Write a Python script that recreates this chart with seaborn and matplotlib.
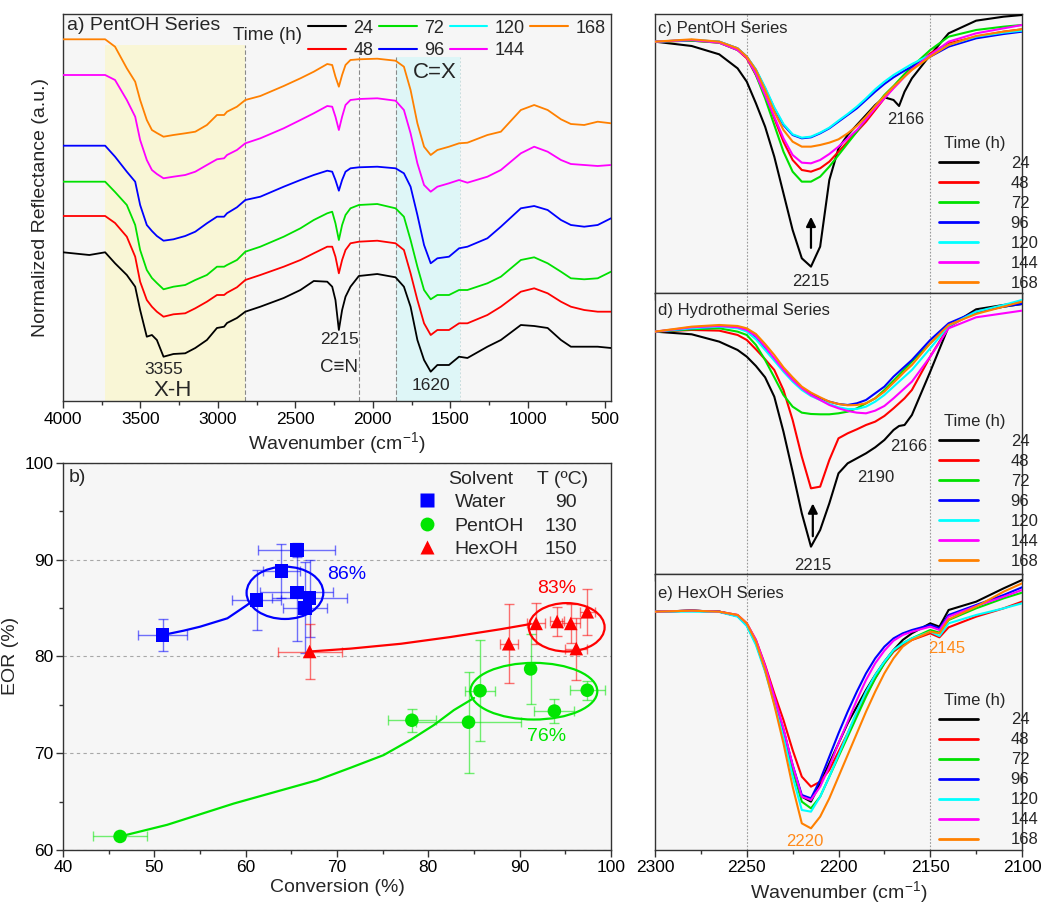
import numpy as np
import pandas as pd
import matplotlib
matplotlib.use('Agg')
import matplotlib.pyplot as plt
from matplotlib.lines import Line2D
from matplotlib.patches import Ellipse
from matplotlib.ticker import MultipleLocator
import seaborn as sns

# ---------------- data ----------------
times = ['24', '48', '72', '96', '120', '144', '168']
time_colors = ['#000000', '#FF0000', '#00E000', '#0000FF', '#00FFFF', '#FF00FF', '#FF8000']

# panel a: PentOH series, full spectra (offset, arbitrary units)
wn_a = [4000, 3830, 3728, 3664, 3588, 3534, 3502, 3459, 3426, 3394, 3351, 3287, 3211, 3146, 3071,
        3006, 2960, 2941, 2877, 2823, 2726, 2575, 2467, 2381, 2294, 2262, 2241, 2219, 2198, 2176,
        2144, 2090, 1971, 1853, 1799, 1756, 1712, 1669, 1626, 1583, 1508, 1443, 1389, 1260, 1173,
        1044, 958, 871, 785, 721, 635, 548, 462]
a_24 = [148.7, 146, 148.7, 137.7, 126, 114.3, 91, 64.3, 66, 61, 44.3, 47, 47.7, 53, 61, 73, 74.3, 78,
        83, 89.3, 94.3, 103, 111, 120, 119.3, 114.3, 101, 71, 91, 104.3, 114.3, 125, 127, 123.7, 114.3,
        94.3, 61, 41, 29.3, 36, 36, 44.3, 43, 54.3, 61, 76, 75, 73, 61, 54.3, 54.3, 54.3, 53]
a_48 = [185, 185, 185, 178, 164.3, 144.3, 119.3, 101, 94.3, 89.3, 84.3, 86.7, 87.7, 92.7, 99.3, 106,
        106, 108.3, 113.7, 121, 126, 134.3, 141, 147.7, 154.3, 154.3, 144.3, 127.7, 141, 151, 157.7,
        159.3, 160.3, 157.7, 151, 127.7, 101, 77.7, 66, 71, 71, 77.7, 77.7, 86, 94.3, 109.3, 112.7,
        107.7, 99.3, 94.3, 91, 89.3, 89.3]
a_72 = [219.3, 219.3, 219.3, 209, 196, 176, 151, 131, 123, 118, 111.7, 114.3, 116, 121, 126, 134.3,
        134.3, 136, 141, 149.3, 154.3, 164.3, 172.7, 181, 187.7, 189.3, 177.7, 161, 176, 186, 192.7,
        196, 197, 192.7, 184.3, 161, 134.3, 111, 101.7, 106, 106, 111, 111, 117.7, 124.3, 141, 143.7,
        137.7, 129.3, 122.7, 121.7, 122.7, 129.3]
a_96 = [255.3, 255.3, 255.3, 244.3, 229.3, 219.3, 196, 176, 170, 165, 160.3, 161.7, 165, 169.3, 177.7,
        184.3, 184.3, 187.7, 193.7, 201, 204.3, 214.3, 221, 226, 230.3, 229.3, 221, 210.3, 221, 229.3,
        232.7, 233.7, 234.3, 232.7, 227.7, 214.3, 186, 156, 137.7, 142.7, 144.3, 152.7, 154.3, 162.7,
        174.3, 192.7, 195, 191, 181, 176, 174.3, 176, 182.7]
a_144 = [326, 326, 326, 321, 301, 284.3, 261, 241, 231, 227, 222.7, 224.3, 226, 229.3, 236, 241.7,
         242.7, 246, 251, 257.7, 262.7, 272.7, 281, 287.7, 295, 294.3, 284.3, 271, 284.3, 296, 301,
         302, 302.7, 300.3, 291, 267.7, 237.7, 216, 209.3, 214.3, 217.7, 221, 218.3, 224.3, 231,
         247.7, 254.3, 249.3, 241, 237, 236, 235, 236]
a_168 = [361.7, 361.7, 361.7, 354.3, 332.7, 319.3, 301, 281, 271, 268, 264.3, 266, 267.7, 269.3, 276,
         286, 286, 289.3, 294.3, 301, 305, 315, 322.7, 329.3, 337, 336, 324.3, 314.3, 326, 336, 341,
         341.7, 342.3, 340.3, 334.3, 311, 277.7, 254.3, 246, 251, 254.3, 257.7, 258.3, 266, 269.3,
         291, 296, 291, 281.7, 277, 276, 279.3, 277.7]
a_series = {'24': a_24, '48': a_48, '72': a_72, '96': a_96, '144': a_144, '168': a_168}

# panel b
water_conv = [50.9, 61.2, 63.9, 65.6, 65.6, 67.0, 66.5]
water_eor = [82.2, 85.8, 88.8, 91.0, 86.6, 86.0, 85.0]
water_xerr = [2.7, 2.7, 2.0, 4.2, 4.0, 4.1, 2.4]
water_yerr = [1.65, 3.1, 2.8, 0.7, 5.0, 4.0, 4.7]
pent_conv = [46.25, 78.2, 84.4, 85.66, 91.2, 93.8, 97.4]
pent_eor = [61.4, 73.4, 73.2, 76.45, 78.7, 74.35, 76.5]
pent_xerr = [3.0, 2.6, 5.8, 1.6, 0.0, 2.2, 1.9]
pent_yerr = [0.3, 1.2, 5.2, 5.2, 3.6, 1.2, 1.0]
hex_conv = [67.0, 88.8, 91.8, 94.1, 95.6, 97.4, 96.2]
hex_eor = [80.5, 81.3, 83.4, 83.6, 83.4, 84.6, 80.8]
hex_xerr = [3.5, 1.0, 1.0, 0.8, 1.0, 0.8, 1.2]
hex_yerr = [2.8, 4.1, 2.1, 1.5, 2.0, 2.4, 3.2]
solvents = ['Water', 'PentOH', 'HexOH']
temps = ['90', '130', '150']
solvent_colors = ['#0000FF', '#00E600', '#FF0000']
solvent_markers = ['s', 'o', '^']
# guide curves and highlighted clusters
water_guide_x = [50.9, 53.2, 55.0, 58.0, 60.15, 60.9]
water_guide_y = [82.2, 82.65, 83.06, 83.93, 85.3, 85.82]
hex_guide_x = [67.0, 71.5, 77.0, 82.45, 87.9, 91.2]
hex_guide_y = [80.5, 80.8, 81.3, 82.0, 82.8, 83.34]
pent_guide_x = [46.25, 51.4, 58.7, 67.8, 71.5, 75.1, 78.1, 80.6, 82.8, 85.0]
pent_guide_y = [61.4, 62.6, 64.8, 67.2, 68.5, 69.8, 71.4, 72.9, 74.45, 75.7]
cluster_center_x = [64.3, 91.55, 95.15]
cluster_center_y = [86.56, 76.4, 83.0]
cluster_w = [8.4, 13.9, 8.3]
cluster_h = [5.4, 5.85, 5.0]
cluster_label = ['86%', '76%', '83%']
cluster_label_x = [71.1, 92.9, 94.0]
cluster_label_y = [88.5, 71.7, 87.0]

# panels c-e: C≡N region
wn_cd = [2300, 2280, 2265, 2255, 2250, 2245, 2240, 2235, 2230, 2225, 2220, 2215, 2210, 2205, 2200,
         2195, 2190, 2185, 2180, 2175, 2170, 2167, 2164, 2160, 2150, 2140, 2125, 2110, 2100]
wn_e = [2300, 2280, 2265, 2255, 2250, 2245, 2240, 2235, 2230, 2225, 2220, 2215, 2210, 2205, 2200,
        2195, 2190, 2185, 2180, 2175, 2170, 2165, 2160, 2150, 2145, 2140, 2125, 2110, 2100]
c_24 = [755, 742, 717, 675, 635, 570, 500, 410, 300, 190, 105, 80, 140, 340, 435, 475, 505, 535, 565, 588, 580, 562, 605, 645, 715, 780, 818, 830, 835]
c_48 = [755, 758, 752, 730, 705, 655, 595, 525, 455, 400, 370, 365, 375, 395, 425, 455, 485, 515, 550, 585, 618, 635, 652, 675, 720, 750, 770, 785, 792]
c_72 = [755, 758, 752, 730, 710, 655, 585, 505, 425, 365, 335, 335, 350, 380, 415, 450, 485, 525, 560, 595, 622, 640, 658, 680, 730, 770, 790, 800, 805]
c_96 = [755, 760, 755, 735, 710, 670, 615, 555, 505, 475, 465, 468, 480, 495, 515, 535, 555, 580, 605, 628, 648, 658, 668, 680, 710, 740, 765, 778, 785]
c_120 = [755, 760, 755, 735, 710, 672, 618, 558, 508, 477, 467, 470, 482, 497, 518, 538, 560, 585, 612, 635, 655, 665, 675, 688, 715, 745, 770, 782, 788]
c_144 = [755, 760, 752, 730, 708, 658, 595, 530, 465, 415, 392, 390, 400, 418, 440, 465, 490, 522, 555, 585, 615, 632, 650, 672, 715, 755, 780, 795, 805]
c_168 = [755, 762, 755, 735, 710, 670, 610, 545, 490, 455, 440, 440, 445, 452, 462, 480, 502, 530, 562, 592, 620, 635, 650, 670, 710, 745, 772, 785, 792]
d_24 = [727, 719, 697, 672, 652, 624, 590, 532, 427, 307, 182, 82, 132, 212, 302, 332, 347, 362, 380, 402, 432, 444, 447, 477, 607, 742, 794, 807, 814]
d_48 = [727, 732, 730, 717, 702, 674, 644, 612, 552, 462, 352, 257, 262, 342, 407, 422, 434, 447, 457, 474, 497, 512, 527, 552, 652, 742, 787, 802, 810]
d_72 = [727, 734, 737, 727, 717, 687, 642, 590, 537, 502, 484, 480, 479, 479, 482, 487, 497, 512, 527, 552, 580, 597, 614, 637, 692, 747, 784, 802, 810]
d_96 = [727, 737, 742, 740, 732, 712, 677, 644, 612, 582, 557, 539, 527, 517, 510, 507, 512, 522, 542, 562, 592, 607, 622, 642, 702, 752, 787, 802, 810]
d_120 = [727, 737, 742, 737, 727, 704, 672, 640, 607, 577, 552, 534, 522, 510, 500, 495, 495, 502, 517, 537, 562, 577, 592, 612, 677, 744, 787, 807, 822]
d_144 = [727, 740, 744, 740, 732, 714, 682, 647, 612, 582, 557, 537, 522, 507, 497, 489, 484, 482, 490, 504, 527, 542, 557, 577, 652, 737, 770, 782, 790]
d_168 = [727, 742, 747, 744, 737, 720, 690, 657, 620, 590, 562, 544, 530, 517, 510, 506, 507, 512, 527, 547, 574, 590, 607, 627, 692, 747, 780, 802, 817]
e_24 = [715, 718, 715, 702, 675, 620, 540, 450, 360, 250, 160, 145, 200, 260, 320, 380, 430, 480, 525, 565, 600, 630, 650, 680, 670, 720, 745, 785, 810]
e_48 = [715, 718, 715, 705, 680, 630, 555, 470, 390, 300, 220, 190, 205, 240, 295, 350, 410, 465, 515, 560, 595, 615, 630, 650, 638, 668, 700, 725, 745]
e_72 = [715, 718, 715, 702, 675, 622, 542, 450, 355, 240, 145, 125, 160, 220, 280, 340, 400, 460, 515, 560, 598, 620, 635, 660, 652, 690, 725, 755, 772]
e_96 = [715, 718, 715, 702, 677, 625, 545, 455, 360, 255, 165, 155, 210, 280, 350, 415, 475, 530, 575, 610, 635, 650, 660, 675, 665, 705, 735, 765, 788]
e_120 = [715, 715, 714, 700, 672, 615, 535, 440, 340, 220, 120, 115, 160, 220, 285, 350, 415, 475, 525, 565, 600, 620, 635, 655, 642, 680, 705, 725, 740]
e_144 = [715, 718, 715, 705, 680, 630, 552, 460, 365, 255, 160, 150, 190, 250, 320, 385, 450, 510, 560, 598, 628, 645, 655, 670, 660, 700, 732, 760, 780]
e_168 = [715, 718, 715, 705, 680, 625, 540, 435, 320, 190, 80, 65, 100, 155, 220, 285, 350, 415, 475, 530, 575, 610, 630, 655, 650, 692, 730, 775, 800]

# ---------------- style ----------------
sns.set_theme(style='ticks')
plt.rcParams['font.family'] = ['Liberation Sans', 'DejaVu Sans']
plt.rcParams['mathtext.fontset'] = 'custom'
plt.rcParams['mathtext.rm'] = 'Liberation Sans'
plt.rcParams['mathtext.it'] = 'Liberation Sans:italic'
plt.rcParams['mathtext.bf'] = 'Liberation Sans:bold'
plt.rcParams['axes.edgecolor'] = '#333333'
plt.rcParams['axes.linewidth'] = 1.0
plt.rcParams['xtick.color'] = '#333333'
plt.rcParams['ytick.color'] = '#333333'
plt.rcParams['xtick.labelcolor'] = 'black'
plt.rcParams['ytick.labelcolor'] = 'black'

BG = '#f6f6f6'
pal = dict(zip(times, time_colors))
W, H = 1041, 907
fig = plt.figure(figsize=(W / 100, H / 100), dpi=100)


def ax_at(x0, y0, x1, y1):
    return fig.add_axes([x0 / W, 1 - y1 / H, (x1 - x0) / W, (y1 - y0) / H])


ax_a = ax_at(63, 14, 611, 401)
ax_b = ax_at(63, 462.7, 611, 850)
ax_c = ax_at(655, 14, 1022, 293.3)
ax_d = ax_at(655, 293.3, 1022, 574)
ax_e = ax_at(655, 574, 1022, 850)
for ax in [ax_a, ax_b, ax_c, ax_d, ax_e]:
    ax.set_facecolor(BG)

# ---------------- panel a ----------------
ax = ax_a
ax.axvspan(3728, 2823, ymin=0, ymax=0.92, color='#f9f6d6', lw=0, zorder=0)
ax.axvspan(1853, 1439, ymin=0, ymax=0.889, color='#def6f7', lw=0, zorder=0)
for xv, top in [(2823, 0.92), (2090, 0.912), (1853, 0.889)]:
    ax.axvline(xv, ymin=0, ymax=top, color='#8a8a8a', ls=(0, (4, 2)), lw=0.8, zorder=1)
ax.axvline(1439, ymin=0, ymax=0.889, color='#c8dede', ls=(0, (2, 2)), lw=0.7, zorder=1)
df_a = pd.DataFrame({
    'wn': np.concatenate([wn_a] * len(a_series)),
    'refl': np.concatenate([a_series[t] for t in a_series]),
    'time': np.repeat(list(a_series.keys()), len(wn_a)),
})
sns.lineplot(data=df_a, x='wn', y='refl', hue='time', hue_order=list(a_series.keys()),
             palette=pal, estimator=None, sort=False, legend=False, lw=1.3, ax=ax, zorder=3)
ax.set_xlim(4000, 462)
ax.set_ylim(0, 387)
ax.set_yticks([])
ax.xaxis.set_major_locator(MultipleLocator(500))
ax.xaxis.set_minor_locator(MultipleLocator(250))
ax.tick_params(axis='x', which='major', direction='out', length=5, width=1, labelsize=12.5, pad=3)
ax.tick_params(axis='x', which='minor', direction='out', length=3, width=1)
ax.set_xlabel('Wavenumber (cm$^{\\mathregular{-1}}$)', fontsize=14, labelpad=2)
ax.set_ylabel('Normalized Reflectance (a.u.)', fontsize=14, labelpad=10)
ax.text(0.007, 0.969, 'a) PentOH Series', transform=ax.transAxes, fontsize=14, ha='left', va='center')
ax.text(0.31, 0.9457, 'Time (h)', transform=ax.transAxes, fontsize=13.5, ha='left', va='center')
ax.text(3347, 31, '3355', fontsize=12.5, ha='center', va='center')
ax.text(3289, 11, 'X-H', fontsize=16, ha='center', va='center')
ax.text(2215, 61, '2215', fontsize=12.5, ha='center', va='center')
ax.text(2215, 33.5, 'C≡N', fontsize=13.5, ha='center', va='center')
ax.text(1626, 15.5, '1620', fontsize=12.5, ha='center', va='center')
ax.text(1600, 328, 'C=X', fontsize=16, ha='center', va='center')
handles_t = [Line2D([], [], color=c, lw=1.5) for c in time_colors]
leg_a = ax.legend(handles_t, times, ncol=4, loc='upper right', bbox_to_anchor=(0.99, 0.985),
                  frameon=False, fontsize=13, handlelength=2.1, handletextpad=0.4,
                  columnspacing=0.3, labelspacing=0.28, borderpad=0, borderaxespad=0)

# ---------------- panel b ----------------
ax = ax_b
groups = [
    (water_conv, water_eor, water_xerr, water_yerr),
    (pent_conv, pent_eor, pent_xerr, pent_yerr),
    (hex_conv, hex_eor, hex_xerr, hex_yerr),
]
guides = [(water_guide_x, water_guide_y), (pent_guide_x, pent_guide_y), (hex_guide_x, hex_guide_y)]
rows = []
for s, (cx, cy, xe, ye) in zip(solvents, groups):
    for a_, b_ in zip(cx, cy):
        rows.append({'Conversion': a_, 'EOR': b_, 'Solvent': s})
df_b = pd.DataFrame(rows)
for i, (s, (cx, cy, xe, ye)) in enumerate(zip(solvents, groups)):
    ax.errorbar(cx, cy, xerr=xe, yerr=ye, fmt='none', ecolor=solvent_colors[i], alpha=0.55,
                elinewidth=1, capsize=3.5, capthick=1, zorder=2)
    gx, gy = guides[i]
    sns.lineplot(x=gx, y=gy, sort=False, estimator=None, color=solvent_colors[i], lw=1.6, ax=ax, zorder=3)
    ax.add_patch(Ellipse((cluster_center_x[i], cluster_center_y[i]), cluster_w[i], cluster_h[i],
                         fill=False, ec=solvent_colors[i], lw=1.6, zorder=3))
    ax.text(cluster_label_x[i], cluster_label_y[i], cluster_label[i], color=solvent_colors[i],
            fontsize=14, ha='center', va='center')
sns.scatterplot(data=df_b, x='Conversion', y='EOR', hue='Solvent', style='Solvent',
                hue_order=solvents, style_order=solvents,
                palette=dict(zip(solvents, solvent_colors)),
                markers=dict(zip(solvents, solvent_markers)), s=95, edgecolor='none',
                legend=False, ax=ax, zorder=4)
ax.set_xlim(40, 100)
ax.set_ylim(60, 100)
ax.xaxis.set_major_locator(MultipleLocator(10))
ax.xaxis.set_minor_locator(MultipleLocator(5))
ax.yaxis.set_major_locator(MultipleLocator(10))
ax.yaxis.set_minor_locator(MultipleLocator(5))
ax.tick_params(which='major', direction='out', length=5, width=1, labelsize=12.5, pad=2)
ax.tick_params(which='minor', direction='out', length=3, width=1)
ax.yaxis.grid(True, which='major', ls=(0, (3, 3)), color='#a8a8a8', lw=0.8)
ax.set_axisbelow(True)
ax.set_xlabel('Conversion (%)', fontsize=14, labelpad=3)
ax.set_ylabel('EOR (%)', fontsize=14, labelpad=4)
ax.text(0.01, 0.9605, 'b)', transform=ax.transAxes, fontsize=14, ha='left', va='center')
handles_s = [Line2D([], [], marker=m, color=c, ls='none', ms=10, mec='none')
             for m, c in zip(solvent_markers, solvent_colors)]
leg_b = ax.legend(handles_s, solvents, loc='upper left', bbox_to_anchor=(0.647, 0.92),
                  frameon=False, fontsize=14, handlelength=1.0, handletextpad=0.9,
                  labelspacing=0.3, borderpad=0, borderaxespad=0)

# ---------------- panels c-e ----------------
spec_sets = [
    (ax_c, wn_cd, [c_24, c_48, c_72, c_96, c_120, c_144, c_168], 838, 'c) PentOH Series', 0.949, 0.0),
    (ax_d, wn_cd, [d_24, d_48, d_72, d_96, d_120, d_144, d_168], 842, 'd) Hydrothermal Series', 0.938, 0.01),
    (ax_e, wn_e, [e_24, e_48, e_72, e_96, e_120, e_144, e_168], 828, 'e) HexOH Series', 0.930, 0.0),
]
legs_r = []
for ax, wn, series, ytop, title, ty, ly in spec_sets:
    df = pd.DataFrame({'wn': np.concatenate([wn] * 7), 'refl': np.concatenate(series),
                       'time': np.repeat(times, len(wn))})
    for xv in [2250, 2150]:
        ax.axvline(xv, color='#9a9a9a', ls=(0, (1.5, 1.5)), lw=0.8, zorder=1)
    sns.lineplot(data=df, x='wn', y='refl', hue='time', hue_order=times, palette=pal,
                 estimator=None, sort=False, legend=False, lw=1.5, ax=ax, zorder=3)
    ax.set_xlim(2300, 2100)
    ax.set_ylim(0, ytop)
    ax.set_yticks([])
    ax.set_ylabel('')
    ax.xaxis.set_major_locator(MultipleLocator(50))
    ax.xaxis.set_minor_locator(MultipleLocator(25))
    ax.tick_params(axis='x', which='major', direction='out', length=5, width=1, labelsize=12.5, pad=2)
    ax.tick_params(axis='x', which='minor', direction='out', length=3, width=1)
    ax.text(0.008, ty, title, transform=ax.transAxes, fontsize=12, ha='left', va='center')
    lg = ax.legend([Line2D([], [], color=c, lw=2) for c in time_colors], times,
                   title='Time (h)', title_fontsize=12, fontsize=12, loc='lower right',
                   bbox_to_anchor=(0.976, ly), frameon=False, handlelength=2.3,
                   handletextpad=0.3, labelspacing=0.3, borderpad=0.1, borderaxespad=0.05)
    legs_r.append(lg)

ax_c.tick_params(labelbottom=False)
ax_d.tick_params(labelbottom=False)
ax_c.set_xlabel('')
ax_d.set_xlabel('')
ax_e.set_xlabel('Wavenumber (cm$^{\\mathregular{-1}}$)', fontsize=14, labelpad=3)

ax_c.text(2215, 35, '2215', fontsize=12, ha='center', va='center')
ax_c.text(2163.3, 520, '2166', fontsize=12, ha='center', va='center')
ax_c.annotate('', xy=(2215, 238), xytext=(2215, 128),
              arrowprops=dict(arrowstyle='-|>', color='black', lw=1.6, mutation_scale=14))
ax_d.text(2213.8, 24, '2215', fontsize=12, ha='center', va='center')
ax_d.text(2179.6, 289, '2190', fontsize=12, ha='center', va='center')
ax_d.text(2161.8, 382, '2166', fontsize=12, ha='center', va='center')
ax_d.annotate('', xy=(2214, 220), xytext=(2214, 105),
              arrowprops=dict(arrowstyle='-|>', color='black', lw=1.6, mutation_scale=14))
ax_e.text(2218.2, 25, '2220', fontsize=12, color='#FF8A1A', ha='center', va='center')
ax_e.text(2140.9, 605, '2145', fontsize=12, color='#FF8A1A', ha='center', va='center')

# ---------------- legend text tweaks ----------------
fig.canvas.draw()
r = fig.canvas.get_renderer()
for lg in legs_r:
    texts = lg.get_texts()
    wmax = max(t.get_window_extent(r).width for t in texts)
    for t in texts:
        t.set_ha('right')
        t.set_position((wmax, 0))

inv = ax_b.transAxes.inverted()
ys = []
for t in leg_b.get_texts():
    bb = t.get_window_extent(r)
    ys.append(inv.transform(((bb.x0 + bb.x1) / 2, (bb.y0 + bb.y1) / 2))[1])
for yv, tv in zip(ys, temps):
    ax_b.text(0.938, yv, tv, transform=ax_b.transAxes, fontsize=14, ha='right', va='center')
row_gap = ys[0] - ys[1]
ax_b.text(0.7026, ys[0] + row_gap, 'Solvent', transform=ax_b.transAxes, fontsize=14, ha='left', va='center')
ax_b.text(0.912, ys[0] + row_gap, 'T (ºC)', transform=ax_b.transAxes, fontsize=14, ha='center', va='center')

fig.savefig('out.png', dpi=100)
